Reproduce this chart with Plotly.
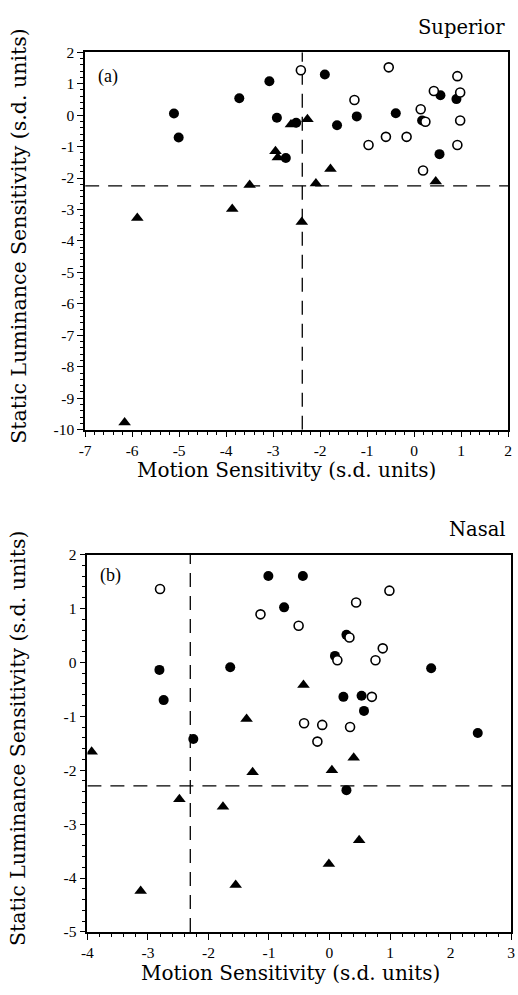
import plotly.graph_objects as go

# ---------------- data ----------------
# Panel (a) Superior
sup_open_x = [-2.41, -0.54, 0.92, 0.42, 0.98, -1.27, 0.14, 0.24, 0.98, -0.60, -0.16, -0.97, 0.92, 0.19]
sup_open_y = [1.43, 1.52, 1.24, 0.77, 0.72, 0.48, 0.19, -0.21, -0.17, -0.69, -0.69, -0.95, -0.95, -1.76]
sup_fill_x = [-5.11, -5.01, -3.72, -3.08, -2.92, -2.73, -2.51, -1.90, 0.56, 0.90, -0.39, -1.22, 0.17, -1.64, 0.54]
sup_fill_y = [0.05, -0.71, 0.54, 1.08, -0.08, -1.36, -0.24, 1.29, 0.63, 0.51, 0.06, -0.04, -0.17, -0.32, -1.24]
sup_tri_x = [-2.95, -2.90, -3.50, -3.87, -5.89, -6.16, -2.62, -2.27, -1.78, -2.09, 0.46, -2.39]
sup_tri_y = [-1.15, -1.35, -2.22, -2.98, -3.27, -9.77, -0.30, -0.13, -1.71, -2.17, -2.11, -3.40]
sup_thr_x = -2.38
sup_thr_y = -2.25

# Panel (b) Nasal
nas_open_x = [-2.80, -1.14, 0.99, 0.44, -0.51, 0.33, 0.88, 0.76, 0.13, 0.70, -0.42, -0.12, 0.34, -0.20]
nas_open_y = [1.36, 0.89, 1.33, 1.11, 0.68, 0.46, 0.26, 0.04, 0.04, -0.64, -1.13, -1.16, -1.20, -1.47]
nas_fill_x = [-2.81, -2.74, -1.01, -0.75, -1.64, -0.44, 0.28, 0.09, 1.68, 0.23, 0.53, 0.57, -2.25, 2.45, 0.28]
nas_fill_y = [-0.14, -0.70, 1.60, 1.02, -0.09, 1.60, 0.51, 0.12, -0.11, -0.64, -0.62, -0.90, -1.42, -1.31, -2.37]
nas_tri_x = [-0.43, -1.37, -3.93, -1.27, -2.48, -1.76, -3.12, -1.55, 0.40, 0.04, 0.49, -0.01]
nas_tri_y = [-0.42, -1.05, -1.66, -2.04, -2.54, -2.68, -4.24, -4.13, -1.77, -2.00, -3.30, -3.74]
nas_thr_x = -2.30
nas_thr_y = -2.29

# tick labels
sup_xticks = [-7, -6, -5, -4, -3, -2, -1, 0, 1, 2]
sup_yticks = [2, 1, 0, -1, -2, -3, -4, -5, -6, -7, -8, -9, -10]
nas_xticks = [-4, -3, -2, -1, 0, 1, 2, 3]
nas_yticks = [2, 1, 0, -1, -2, -3, -4, -5]

x_title = "Motion Sensitivity (s.d. units)"
y_title = "Static Luminance Sensitivity (s.d. units)"

W, H = 518, 995
TITLE_FONT = dict(family="DejaVu Serif", size=20.5, color="black")
XTITLE_FONT = dict(family="DejaVu Serif", size=20, color="black")
LABEL_FONT = dict(family="DejaVu Serif", size=19.5, color="black")
TICK_FONT = dict(family="Liberation Serif", size=15.5, color="black")

fig = go.Figure()


def add_panel(xa, ya, ox, oy, fx, fy, tx, ty, thx, thy, xr, yr):
    dash = "14px,9px"
    fig.add_trace(go.Scatter(x=[thx, thx], y=[yr[0], yr[1]], mode="lines",
                             line=dict(color="black", width=1.3, dash=dash),
                             xaxis=xa, yaxis=ya, showlegend=False, hoverinfo="skip"))
    fig.add_trace(go.Scatter(x=[xr[0], xr[1]], y=[thy, thy], mode="lines",
                             line=dict(color="black", width=1.3, dash=dash),
                             xaxis=xa, yaxis=ya, showlegend=False, hoverinfo="skip"))
    fig.add_trace(go.Scatter(x=tx, y=ty, mode="markers",
                             marker=dict(symbol="triangle-up", size=11, color="black"),
                             xaxis=xa, yaxis=ya, showlegend=False))
    fig.add_trace(go.Scatter(x=fx, y=fy, mode="markers",
                             marker=dict(symbol="circle", size=10, color="black"),
                             xaxis=xa, yaxis=ya, showlegend=False))
    fig.add_trace(go.Scatter(x=ox, y=oy, mode="markers",
                             marker=dict(symbol="circle", size=9, color="white",
                                         line=dict(color="black", width=1.6)),
                             xaxis=xa, yaxis=ya, showlegend=False))


add_panel("x", "y", sup_open_x, sup_open_y, sup_fill_x, sup_fill_y, sup_tri_x, sup_tri_y,
          sup_thr_x, sup_thr_y, (-7, 2), (-10, 2))
add_panel("x2", "y2", nas_open_x, nas_open_y, nas_fill_x, nas_fill_y, nas_tri_x, nas_tri_y,
          nas_thr_x, nas_thr_y, (-4, 3), (-5, 2))


def axis(rng, ticks, domain, anchor):
    return dict(range=rng, domain=domain, anchor=anchor,
                tickvals=ticks, ticktext=[str(t) for t in ticks],
                ticks="outside", ticklen=6, tickwidth=1.4, tickcolor="black",
                minor=dict(dtick=0.2, ticks="outside", ticklen=3.5, tickwidth=1, tickcolor="black"),
                showline=True, linecolor="black", linewidth=1.6, mirror=True,
                showgrid=False, zeroline=False, tickfont=TICK_FONT, fixedrange=True)


def px_x(p):
    return p / W


def px_y(p):
    return 1 - p / H


fig.update_layout(
    width=W, height=H, margin=dict(l=0, r=0, t=0, b=0),
    paper_bgcolor="white", plot_bgcolor="white",
    xaxis=axis([-7, 2], sup_xticks, [px_x(80.7), px_x(512)], "y"),
    yaxis=axis([-10, 2], sup_yticks, [px_y(428), px_y(44)], "x"),
    xaxis2=axis([-4, 3], nas_xticks, [px_x(83), px_x(515)], "y2"),
    yaxis2=axis([-5, 2], nas_yticks, [px_y(939), px_y(555)], "x2"),
)

ann = []
# axis titles
ann.append(dict(text=x_title, x=px_x(286), y=px_y(469), xref="paper", yref="paper",
                showarrow=False, font=XTITLE_FONT, xanchor="center", yanchor="middle"))
ann.append(dict(text=x_title, x=px_x(290), y=px_y(981), xref="paper", yref="paper",
                showarrow=False, font=XTITLE_FONT, xanchor="center", yanchor="middle"))
ann.append(dict(text=y_title, x=px_x(13), y=px_y(231), xref="paper", yref="paper",
                showarrow=False, font=TITLE_FONT, textangle=-90, xanchor="center", yanchor="middle"))
ann.append(dict(text=y_title, x=px_x(13), y=px_y(742), xref="paper", yref="paper",
                showarrow=False, font=TITLE_FONT, textangle=-90, xanchor="center", yanchor="middle"))
# panel names
ann.append(dict(text="Superior", x=px_x(511), y=px_y(19), xref="paper", yref="paper",
                showarrow=False, font=LABEL_FONT, xanchor="right", yanchor="middle"))
ann.append(dict(text="Nasal", x=px_x(512), y=px_y(530), xref="paper", yref="paper",
                showarrow=False, font=LABEL_FONT, xanchor="right", yanchor="middle"))
# panel letters
ann.append(dict(text="(a)", x=px_x(92), y=px_y(69), xref="paper", yref="paper",
                showarrow=False, font=dict(family="Liberation Serif", size=18, color="black"),
                xanchor="left", yanchor="middle"))
ann.append(dict(text="(b)", x=px_x(94), y=px_y(576), xref="paper", yref="paper",
                showarrow=False, font=dict(family="Liberation Serif", size=18, color="black"),
                xanchor="left", yanchor="middle"))
fig.update_layout(annotations=ann)

fig.write_html(
    "out.html",
    config={"displayModeBar": False},
    post_script="document.body.style.margin='0';document.body.style.overflow='hidden';",
)
